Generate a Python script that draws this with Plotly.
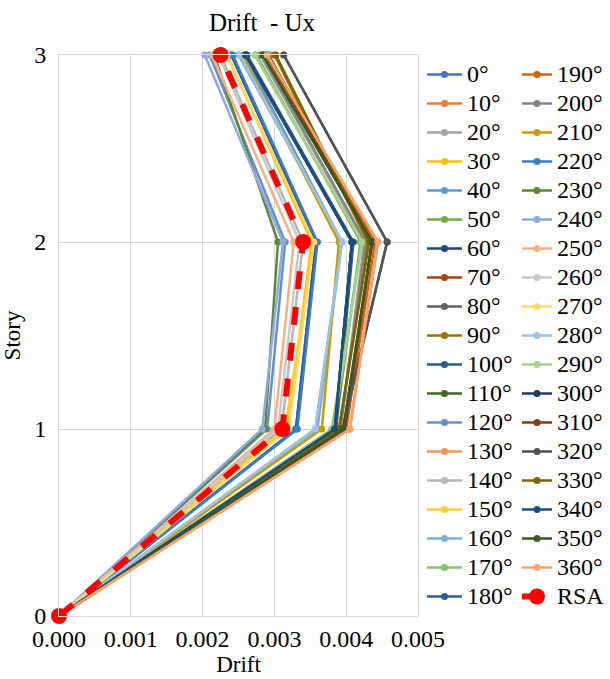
import plotly.graph_objects as go

stories = [0, 1, 2, 3]
angles = [f"{a}°" for a in range(0, 370, 10)]

# drift values at stories 1, 2, 3 (story 0 is 0) for each angle
drift_s1 = [0.00330, 0.00405, 0.00392, 0.00318, 0.00357, 0.00385, 0.00384, 0.00398, 0.00395, 0.00390,
            0.00386, 0.00396, 0.00290, 0.00405, 0.00310, 0.00315, 0.00360, 0.00380, 0.00330, 0.00400,
            0.00392, 0.00366, 0.00332, 0.00287, 0.00283, 0.00300, 0.00305, 0.00320, 0.00357, 0.00382,
            0.00384, 0.00398, 0.00395, 0.00390, 0.00384, 0.00396, 0.00405]
drift_s2 = [0.00358, 0.00444, 0.00425, 0.00352, 0.00394, 0.00420, 0.00408, 0.00436, 0.00457, 0.00430,
            0.00410, 0.00436, 0.00315, 0.00444, 0.00340, 0.00355, 0.00394, 0.00422, 0.00358, 0.00440,
            0.00427, 0.00390, 0.00360, 0.00305, 0.00312, 0.00327, 0.00335, 0.00355, 0.00394, 0.00422,
            0.00408, 0.00436, 0.00457, 0.00432, 0.00408, 0.00436, 0.00444]
drift_s3 = [0.00240, 0.00290, 0.00280, 0.00234, 0.00258, 0.00275, 0.00260, 0.00292, 0.00313, 0.00300,
            0.00262, 0.00284, 0.00210, 0.00288, 0.00225, 0.00234, 0.00250, 0.00273, 0.00240, 0.00288,
            0.00282, 0.00255, 0.00242, 0.00216, 0.00203, 0.00213, 0.00222, 0.00234, 0.00252, 0.00273,
            0.00260, 0.00290, 0.00313, 0.00302, 0.00260, 0.00284, 0.00290]

rsa_drift = [0.0, 0.00311, 0.00340, 0.00225]

colors = ["#4472C4", "#ED7D31", "#A5A5A5", "#FFC000", "#5B9BD5", "#70AD47",
          "#264478", "#9E480E", "#636363", "#997300", "#255E91", "#43682B",
          "#698ED0", "#F1975A", "#B7B7B7", "#FFCD33", "#7CAFDD", "#8CC168",
          "#335AA1", "#D26012", "#848484", "#CC9A00", "#3A7EC2", "#5A8A39",
          "#8FAADC", "#F4B183", "#C9C9C9", "#FFD966", "#9DC3E6", "#A9D18E",
          "#203864", "#843C0C", "#525252", "#7F6000", "#1F4E79", "#385723",
          "#F3A56F"]

FONT = "Liberation Serif"
LEG_TXT = '<span style="font-size:24px">{}</span>'

fig = go.Figure()
for i, name in enumerate(angles):
    xs = [0.0, drift_s1[i], drift_s2[i], drift_s3[i]]
    fig.add_trace(go.Scatter(
        x=xs, y=stories, name=LEG_TXT.format(name), mode="lines+markers",
        line=dict(color=colors[i], width=2.5),
        marker=dict(color=colors[i], size=7, symbol="circle"),
        cliponaxis=False,
        legend="legend" if i <= 18 else "legend2",
    ))

fig.add_trace(go.Scatter(
    x=rsa_drift, y=stories, name=LEG_TXT.format("RSA"), mode="lines+markers",
    line=dict(color="#FF0000", width=6, dash="dash"),
    marker=dict(color="#FF0000", size=16, symbol="circle"),
    cliponaxis=False, legend="legend2",
))

grid = "#D9D9D9"
fig.update_layout(
    width=610, height=679,
    margin=dict(l=59, r=192, t=55, b=63, autoexpand=False),
    paper_bgcolor="white", plot_bgcolor="white",
    font=dict(family=FONT, size=22, color="black"),
    title=dict(text="Drift &nbsp;- Ux", x=(262 - 59) / 359, xref="paper", xanchor="center",
               y=1 - 22 / 679, yref="container", yanchor="middle",
               font=dict(family=FONT, size=25, color="black")),
    xaxis=dict(range=[0, 0.005], dtick=0.001, tick0=0, tickformat=".3f",
               showgrid=True, gridcolor=grid, gridwidth=1, zeroline=False,
               showline=True, linecolor=grid, linewidth=1, mirror=True,
               ticks="", ticklabelstandoff=1,
               tickfont=dict(family=FONT, size=24, color="black"),
               title=dict(text="Drift", font=dict(family=FONT, size=23, color="black"), standoff=0)),
    yaxis=dict(range=[0, 3], dtick=1, tick0=0,
               showgrid=True, gridcolor=grid, gridwidth=1, zeroline=False,
               showline=True, linecolor=grid, linewidth=1, mirror=True,
               ticks="", ticklabelstandoff=7,
               tickfont=dict(family=FONT, size=24, color="black"),
               title=dict(text="Story", font=dict(family=FONT, size=23, color="black"), standoff=10)),
    legend=dict(x=(422 - 59) / 359, xanchor="left", y=1.0, yanchor="top",
                font=dict(family=FONT, size=20, color="black"),
                itemwidth=35, bgcolor="rgba(0,0,0,0)", borderwidth=0,
                traceorder="normal"),
    legend2=dict(x=(517 - 59) / 359, xanchor="left", y=1.0, yanchor="top",
                 font=dict(family=FONT, size=20, color="black"),
                 itemwidth=30, bgcolor="rgba(0,0,0,0)", borderwidth=0,
                 traceorder="normal"),
    showlegend=True,
)

fig.write_html("out.html", config={"displayModeBar": False},
               post_script="document.body.style.margin='0';")
